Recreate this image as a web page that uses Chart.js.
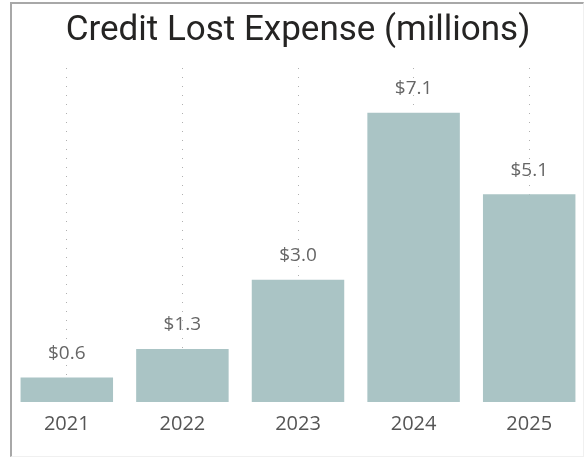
<!DOCTYPE html>
<html>
<head>
<meta charset="utf-8">
<script src="https://cdn.jsdelivr.net/npm/chart.js@4/dist/chart.umd.min.js"></script>
<style>
  html, body { margin: 0; padding: 0; background: #fff; overflow: hidden; }
  #wrap { position: relative; width: 584px; height: 457px; overflow: hidden; }
  #frame {
    position: absolute; left: 10px; top: 2px; right: 0; bottom: 0;
    border-left: 2px solid #a8a8a8; border-top: 2px solid #a8a8a8;
    border-right: 1px solid #f0f0f0; border-bottom: 1px solid #f0f0f0;
    pointer-events: none;
  }
  #box { position: absolute; left: 0; top: 0; width: 590px; height: 457px; }
</style>
</head>
<body>
<div id="wrap">
  <div id="box"><canvas id="chart-credito"></canvas></div>
  <div id="frame"></div>
</div>
<script>
(function (window) {
  'use strict';

  var years = ['2021', '2022', '2023', '2024', '2025'];
  var expense = [0.6, 1.3, 3.0, 7.1, 5.1];
  var titleText = 'Credit Lost Expense (millions)';

  function money(v) { return '$' + v.toFixed(1); }

  // value labels sitting above each bar
  var barLabels = {
    id: 'barLabels',
    afterDatasetsDraw: function (chart) {
      var ctx = chart.ctx;
      var meta = chart.getDatasetMeta(0);
      var values = chart.data.datasets[0].data;
      ctx.save();
      ctx.font = '19px "Open Sans", sans-serif';
      ctx.fillStyle = '#666666';
      ctx.textAlign = 'center';
      ctx.textBaseline = 'middle';
      meta.data.forEach(function (bar, i) {
        ctx.fillText(money(values[i]), bar.x, bar.y - 24);
      });
      ctx.restore();
    }
  };

  var ctx = document.getElementById('chart-credito').getContext('2d');
  new Chart(ctx, {
    type: 'bar',
    data: {
      labels: years,
      datasets: [{
        data: expense,
        backgroundColor: '#aac4c5',
        borderWidth: 0,
        barPercentage: 0.8,
        categoryPercentage: 1
      }]
    },
    options: {
      responsive: true,
      maintainAspectRatio: false,
      animation: false,
      layout: { padding: { left: 9, right: 3, top: 0, bottom: 11 } },
      plugins: {
        legend: { display: false },
        tooltip: { enabled: false },
        title: {
          display: true,
          text: titleText,
          color: '#252423',
          font: { family: 'Roboto', size: 35, weight: '400' },
          padding: { top: 10, bottom: 16 }
        }
      },
      scales: {
        x: {
          grid: {
            offset: false,
            drawTicks: false,
            color: '#b0b0b0',
            lineWidth: 1
          },
          border: { display: false, dash: [1, 8] },
          ticks: {
            color: '#555555',
            padding: 10,
            font: { family: '"Open Sans", sans-serif', size: 20 }
          }
        },
        y: { display: false, min: 0, max: 8.2 }
      }
    },
    plugins: [barLabels]
  });

})(window);
</script>
</body>
</html>
